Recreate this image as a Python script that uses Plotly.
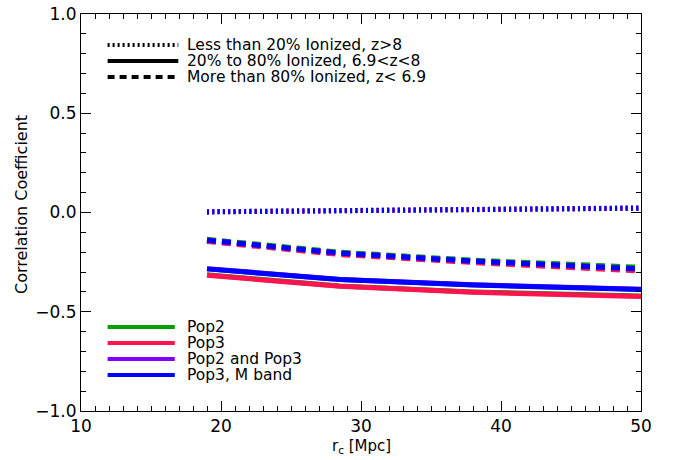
import plotly.graph_objects as go

# ---- data ----
r_c = [19.0, 28.5, 38.0, 50.0]

# Less than 20% ionized, z>8 (dotted)
low_pop2 = [0.004, 0.008, 0.012, 0.022]
low_pop3 = [0.003, 0.007, 0.011, 0.021]
low_pop23 = [0.004, 0.008, 0.012, 0.023]
low_pop3m = [0.003, 0.008, 0.012, 0.022]

# 20% to 80% ionized (solid)
mid_pop2 = [-0.314, -0.370, -0.400, -0.421]
mid_pop3 = [-0.316, -0.372, -0.402, -0.423]
mid_pop23 = [-0.283, -0.337, -0.364, -0.387]
mid_pop3m = [-0.284, -0.338, -0.365, -0.388]

# More than 80% ionized (dashed)
high_pop2 = [-0.135, -0.200, -0.240, -0.276]
high_pop3 = [-0.146, -0.212, -0.252, -0.295]
high_pop23 = [-0.139, -0.205, -0.245, -0.284]
high_pop3m = [-0.140, -0.205, -0.245, -0.285]

series_names = ["Pop2", "Pop3", "Pop2 and Pop3", "Pop3, M band"]
colors = ["#00A000", "#FF1450", "#7F00FF", "#0000FF"]

style_labels = ["Less than 20% Ionized, z>8",
                "20% to 80% Ionized, 6.9<z<8",
                "More than 80% Ionized, z< 6.9"]

FONT = "DejaVu Sans"

fig = go.Figure()

groups = [
    ([low_pop2, low_pop3, low_pop23, low_pop3m], "2px,3.3px"),
    ([high_pop2, high_pop3, high_pop23, high_pop3m], "9px,6px"),
    ([mid_pop2, mid_pop3, mid_pop23, mid_pop3m], "solid"),
]
for ys_list, dash in groups:
    for name, ys, col in zip(series_names, ys_list, colors):
        fig.add_trace(go.Scatter(x=r_c, y=ys, mode="lines", name=name,
                                 line=dict(color=col, width=5, dash=dash),
                                 showlegend=False, hoverinfo="skip"))

# ---- layout geometry (page pixels, body margin removed) ----
PLOT_TOP = 14
PLOT_H = 397
PLOT_L = 81
PLOT_W = 560


def py(page_y):
    return 1 - (page_y - PLOT_TOP) / PLOT_H


def px(page_x):
    return (page_x - PLOT_L) / PLOT_W


LEG_FONT = 15.5
shapes = []
annotations = []
style_dashes = ["2px,3px", "solid", "7px,5px"]
for i, (lab, dsh) in enumerate(zip(style_labels, style_dashes)):
    yy = 45 + 16 * i
    shapes.append(dict(type="line", xref="x", yref="paper",
                       x0=11.9, x1=16.95, y0=py(yy), y1=py(yy),
                       line=dict(color="black", width=4, dash=dsh)))
    annotations.append(dict(x=17.4, y=py(yy), xref="x", yref="paper",
                            text=lab, showarrow=False, xanchor="left", yanchor="middle",
                            font=dict(family=FONT, size=LEG_FONT, color="black")))
for i, (name, col) in enumerate(zip(series_names, colors)):
    yy = 327 + 16 * i
    shapes.append(dict(type="line", xref="x", yref="paper",
                       x0=11.9, x1=16.7, y0=py(yy), y1=py(yy),
                       line=dict(color=col, width=4)))
    annotations.append(dict(x=17.4, y=py(yy), xref="x", yref="paper",
                            text=name, showarrow=False, xanchor="left", yanchor="middle",
                            font=dict(family=FONT, size=LEG_FONT, color="black")))

# axis titles
annotations.append(dict(x=0.5, y=py(446), xref="paper", yref="paper",
                        text="r<sub>c</sub> [Mpc]", showarrow=False,
                        xanchor="center", yanchor="middle",
                        font=dict(family=FONT, size=15, color="black")))
annotations.append(dict(x=px(22), y=py(205), xref="paper", yref="paper",
                        text="Correlation Coefficient", showarrow=False, textangle=-90,
                        xanchor="center", yanchor="middle",
                        font=dict(family=FONT, size=16, color="black")))

axis_common = dict(showgrid=False, zeroline=False, showline=True, linecolor="black",
                   linewidth=1, mirror="allticks", ticks="inside", ticklen=10,
                   tickcolor="black", tickwidth=1, automargin=False,
                   ticklabeloverflow="allow",
                   tickfont=dict(family=FONT, size=17, color="black"))

fig.update_layout(
    width=675, height=460,
    margin=dict(l=PLOT_L, r=675 - PLOT_L - PLOT_W, t=PLOT_TOP, b=460 - PLOT_TOP - PLOT_H),
    paper_bgcolor="white", plot_bgcolor="white",
    shapes=shapes, annotations=annotations,
    xaxis=dict(range=[10, 50], tickvals=[10, 20, 30, 40, 50],
               ticktext=["10", "20", "30", "40", "50"],
               minor=dict(dtick=1, ticks="inside", ticklen=5, tickcolor="black"),
               **axis_common),
    yaxis=dict(range=[-1, 1], tickvals=[-1, -0.5, 0, 0.5, 1],
               ticktext=["\u22121.0", "\u22120.5", "0.0", "0.5", "1.0"],
               minor=dict(dtick=0.1, ticks="inside", ticklen=5, tickcolor="black"),
               **axis_common),
)

fig.write_html("out.html", config={"displayModeBar": False},
               post_script="document.body.style.margin='0';document.body.style.overflow='hidden';")
